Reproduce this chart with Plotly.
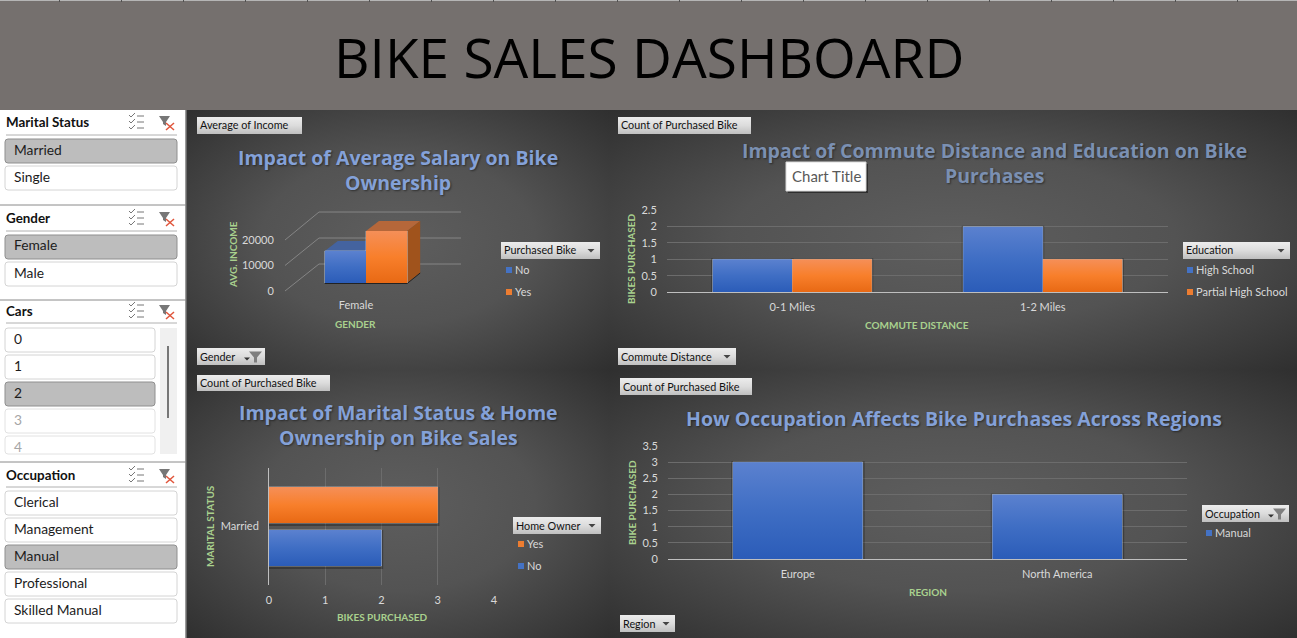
import base64
import plotly.graph_objects as go

W, H = 1297, 638

# ---------- data ----------
gender_cats = ["Female"]
income_no = [12300]
income_yes = [20000]
income_ticks = [0, 10000, 20000]

commute_cats = ["0-1 Miles", "1-2 Miles"]
commute_high_school = [1, 2]
commute_partial_hs = [1, 1]
commute_ticks = [0, 0.5, 1, 1.5, 2, 2.5]

marital_cats = ["Married"]
home_no = [2]
home_yes = [3]
home_ticks = [0, 1, 2, 3, 4]

region_cats = ["Europe", "North America"]
region_manual = [3, 2]
region_ticks = [0, 0.5, 1, 1.5, 2, 2.5, 3, 3.5]

slicers = [
    ("Marital Status", 122, 135, [("Married", 139, True), ("Single", 166, False)], 177),
    ("Gender", 218, 231, [("Female", 235, True), ("Male", 262, False)], 177),
    ("Cars", 311, 323, [("0", 328, False), ("1", 355, False), ("2", 382, True)], 155),
    ("Occupation", 475, 487, [("Clerical", 491, False), ("Management", 518, False), ("Manual", 545, True),
                              ("Professional", 572, False), ("Skilled Manual", 599, False)], 177),
]

BLUE, ORANGE = "#4472c4", "#ed7d31"
GREEN = "#a9d18e"
TICK = "#d9d9d9"
GRID = "#6c6c6c"
SANS = "Lato"
TITLE_FONT = "Open Sans"
SMALL = 11


def px(x):
    return x / W


def py(y):
    return 1 - y / H


def svg_uri(svg):
    return "data:image/svg+xml;base64," + base64.b64encode(svg.encode()).decode()


def lin_grad(top, mid, bottom):
    return svg_uri(
        '<svg xmlns="http://www.w3.org/2000/svg" width="100" height="100" preserveAspectRatio="none">'
        '<defs><linearGradient id="g" x1="0" y1="0" x2="0" y2="1">'
        f'<stop offset="0" stop-color="{top}"/><stop offset="0.5" stop-color="{mid}"/>'
        f'<stop offset="1" stop-color="{bottom}"/>'
        '</linearGradient></defs><rect width="100" height="100" fill="url(#g)"/></svg>')


RADIAL = svg_uri(
    '<svg xmlns="http://www.w3.org/2000/svg" width="100" height="100" preserveAspectRatio="none">'
    '<defs><radialGradient id="r" cx="50%" cy="50%" r="72%">'
    '<stop offset="0" stop-color="#5e5e5e"/><stop offset="0.45" stop-color="#535353"/>'
    '<stop offset="1" stop-color="#2e2e2e"/></radialGradient></defs>'
    '<rect width="100" height="100" fill="url(#r)"/></svg>')
BTN = lin_grad("#ececec", "#dcdcdc", "#bfbfbf")
BLUE_G = lin_grad("#5b81cf", "#3f6ec4", "#2b5cb8")
ORANGE_G = lin_grad("#f58f58", "#f87f2b", "#e86914")

shapes, images, notes = [], [], []


def rect(x0, y0, x1, y1, fill, line=None, lw=0, layer="below"):
    shapes.append(dict(type="rect", xref="paper", yref="paper", x0=px(x0), x1=px(x1), y0=py(y1), y1=py(y0),
                       fillcolor=fill, line=dict(color=line or "rgba(0,0,0,0)", width=lw), layer=layer))


def poly(points, fill, line=None, lw=0, layer="below", close=True):
    d = "M" + " L".join(f"{px(x):.5f},{py(y):.5f}" for x, y in points) + (" Z" if close else "")
    shapes.append(dict(type="path", xref="paper", yref="paper", path=d,
                       fillcolor=fill if close else None, line=dict(color=line or "rgba(0,0,0,0)", width=lw), layer=layer))


def seg(x0, y0, x1, y1, color, w=1, layer="below"):
    shapes.append(dict(type="line", xref="paper", yref="paper", x0=px(x0), x1=px(x1), y0=py(y0), y1=py(y1),
                       line=dict(color=color, width=w), layer=layer))


def rrect(x0, y0, x1, y1, fill, line, r=3):
    d = (f"M{px(x0+r)},{py(y0)} L{px(x1-r)},{py(y0)} Q{px(x1)},{py(y0)} {px(x1)},{py(y0+r)} "
         f"L{px(x1)},{py(y1-r)} Q{px(x1)},{py(y1)} {px(x1-r)},{py(y1)} L{px(x0+r)},{py(y1)} "
         f"Q{px(x0)},{py(y1)} {px(x0)},{py(y1-r)} L{px(x0)},{py(y0+r)} Q{px(x0)},{py(y0)} {px(x0+r)},{py(y0)} Z")
    shapes.append(dict(type="path", xref="paper", yref="paper", path=d, fillcolor=fill,
                       line=dict(color=line, width=1), layer="below"))


def txt(x, y, s, size=12, color="#111111", anchor="left", bold=False, angle=0, font=SANS, shadow=None):
    f = dict(family=font, size=size, color=color, weight=700 if bold else 400)
    if shadow:
        f["shadow"] = shadow
    notes.append(dict(xref="paper", yref="paper", x=px(x), y=py(y), text=s, showarrow=False, font=f,
                      xanchor=anchor, yanchor="middle", textangle=angle, borderpad=0, borderwidth=0))


def paper_img(src, x0, y0, x1, y1, layer="below"):
    images.append(dict(source=src, xref="paper", yref="paper", x=px(x0), y=py(y0), sizex=px(x1) - px(x0),
                       sizey=py(y0) - py(y1), xanchor="left", yanchor="top", sizing="stretch", layer=layer))


def data_img(src, xr, yr, x, y, sx, sy):
    images.append(dict(source=src, xref=xr, yref=yr, x=x, y=y, sizex=sx, sizey=sy, xanchor="left", yanchor="top",
                       sizing="stretch", layer="above"))


def data_shadow(xr, yr, x0, x1, y0, y1):
    shapes.append(dict(type="rect", xref=xr, yref=yr, x0=x0, x1=x1, y0=y0, y1=y1,
                       fillcolor="rgba(0,0,0,0.28)", line=dict(width=0), layer="between"))


def button(x0, y0, x1, y1, label, arrow=True, funnel=False):
    paper_img(BTN, x0, y0, x1, y1)
    txt(x0 + 3, (y0 + y1) / 2 - 0.5, label, 10.8, "#111111")
    cy = (y0 + y1) / 2
    if funnel:
        poly([(x1 - 21, cy + 1), (x1 - 15, cy + 1), (x1 - 18, cy + 4)], "#333333")
        poly([(x1 - 16, cy - 5), (x1 - 3, cy - 5), (x1 - 8, cy + 1), (x1 - 8, cy + 6), (x1 - 11, cy + 6), (x1 - 11, cy + 1)], "#7f7f7f")
    elif arrow:
        ax = x1 - 9
        poly([(ax - 3.5, cy - 1.5), (ax + 3.5, cy - 1.5), (ax, cy + 2)], "#444444")


def legend_item(x, y, label, color):
    rect(x, y - 3, x + 6, y + 3, color)
    txt(x + 9, y - 0.5, label, SMALL, TICK)


def chart_title(cx, y, lines, size=19.5, color="#84a1d8"):
    txt(cx, y, "<br>".join(lines), size, color, "center", True, font=TITLE_FONT,
        shadow="1px 1px 2px rgba(0,0,0,0.45)")


# ---------- page backgrounds ----------
rect(0, 0, W, 110, "#75706e")
seg(0, 0.5, W, 0.5, "#b5b5b5", 1)
for cx in range(60, W, 62):
    seg(cx - 0.5, 0, cx - 0.5, 2, "#505050", 1)
txt(649, 57, "BIKE SALES DASHBOARD", 55, "#000000", "center", font=TITLE_FONT)

rect(0, 110, 186, H, "#ffffff")
paper_img(RADIAL, 187, 110, 609, 370)
paper_img(RADIAL, 609, 110, W, 370)
paper_img(RADIAL, 187, 370, 609, H)
paper_img(RADIAL, 609, 370, W, H)
seg(186, 110, 186, H, "#7a7a7a", 1.5)
for y in (205, 300, 462):
    seg(0, y, 186, y, "#8a8a8a", 1)

# ---------- slicers ----------
for title, ty, sep, items, right in slicers:
    txt(6, ty, title, 13.4, "#111111", bold=True)
    seg(6, sep, 177, sep, "#b0b0b0", 1)
    for k in (-6, 0, 6):
        seg(137, ty + k, 144, ty + k, "#777777", 1)
        poly([(129, ty + k - 1), (131, ty + k + 1), (135, ty + k - 3)], None, "#777777", 1, close=False)
    poly([(159, ty - 6), (170, ty - 6), (166, ty), (166, ty + 4), (163, ty + 2), (163, ty)], "#777777")
    seg(166, ty + 1, 174, ty + 8, "#e0553b", 1.5)
    seg(174, ty + 1, 166, ty + 8, "#e0553b", 1.5)
    for label, y0, sel in items:
        rrect(5, y0, right, y0 + 24, "#bdbdbd" if sel else "#ffffff", "#8f8f8f" if sel else "#d4d4d4")
        txt(14, y0 + 10, label, 13.8, "#1c1c1c")
rrect(5, 409, 155, 433, "#ffffff", "#e2e2e2")
txt(14, 419, "3", 13.8, "#a6a6a6")
rrect(5, 436, 155, 454, "#ffffff", "#e2e2e2")
txt(14, 446, "4", 13.8, "#a6a6a6")
rect(160, 328, 177, 454, "#f0f0f0")
seg(168, 346, 168, 418, "#777777", 2)

# ---------- buttons ----------
button(197, 117, 302, 134, "Average of Income", arrow=False)
button(197, 348, 265, 365, "Gender", funnel=True)
button(501, 242, 600, 259, "Purchased Bike")
button(618, 117, 751, 134, "Count of Purchased Bike", arrow=False)
button(618, 348, 736, 365, "Commute Distance")
button(1183, 242, 1290, 259, "Education")
button(197, 375, 330, 391, "Count of Purchased Bike", arrow=False)
button(513, 517, 601, 534, "Home Owner")
button(620, 378, 752, 395, "Count of Purchased Bike", arrow=False)
button(1202, 505, 1289, 522, "Occupation", funnel=True)
button(620, 615, 675, 632, "Region")

# ---------- chart titles ----------
chart_title(398, 170, ["Impact of Average Salary on Bike", "Ownership"])
chart_title(994, 162.5, ["Impact of Commute Distance and Education on Bike", "Purchases"], color="#7b90b2")
chart_title(398, 425.5, ["Impact of Marital Status &amp; Home", "Ownership on Bike Sales"])
chart_title(954, 418.5, ["How Occupation Affects Bike Purchases Across Regions"], color="#84a1d8")

# "Chart Title" element tooltip box
rect(788, 164, 868, 193, "rgba(0,0,0,0.45)", layer="above")
rect(786, 162, 866, 191, "#ffffff", "#d9d9d9", 1, layer="above")
txt(826, 176, "Chart Title", 15, "#595959", "center")

# ---------- axis titles and legends ----------
txt(233, 255, "AVG. INCOME", 10, GREEN, "center", True, -90)
txt(355, 324, "GENDER", 10, GREEN, "center", True)
legend_item(506, 270, "No", BLUE)
legend_item(506, 292, "Yes", ORANGE)

txt(631, 259, "BIKES PURCHASED", 10, GREEN, "center", True, -90)
txt(917, 325, "COMMUTE DISTANCE", 10, GREEN, "center", True)
legend_item(1187, 270, "High School", BLUE)
legend_item(1187, 292, "Partial High School", ORANGE)

txt(210, 526, "MARITAL STATUS", 10, GREEN, "center", True, -90)
txt(382, 617, "BIKES PURCHASED", 10, GREEN, "center", True)
legend_item(518, 544, "Yes", ORANGE)
legend_item(518, 566, "No", BLUE)

txt(632, 503, "BIKE PURCHASED", 10, GREEN, "center", True, -90)
txt(928, 592, "REGION", 10, GREEN, "center", True)
legend_item(1206, 533, "Manual", BLUE)

fig = go.Figure()

base_axis = dict(showline=False, zeroline=False, fixedrange=True, automargin=False,
                 tickfont=dict(family=SANS, size=SMALL, color=TICK), ticks="outside", tickcolor="rgba(0,0,0,0)")


def dom_x(a, b):
    return [a / W, b / W]


def dom_y(top, bottom):
    return [1 - bottom / H, 1 - top / H]


# ---------- chart 1: pseudo-3D column ----------
fig.add_trace(go.Scatter(x=gender_cats, y=[income_ticks[0]], mode="markers", marker=dict(opacity=0),
                         xaxis="x", yaxis="y", showlegend=False, hoverinfo="skip"))
FLOOR, BAR_TOP, L3, R3 = 283, 231, 295, 437
GAP1 = 0.42
max_inc = income_ticks[-1]
DX, DY = 13, 10
w1 = (1 - GAP1) / 2
fig.add_trace(go.Bar(x=gender_cats, y=income_no, name="No", marker_color=BLUE, xaxis="x2", yaxis="y2", width=w1, offset=-w1))
fig.add_trace(go.Bar(x=gender_cats, y=income_yes, name="Yes", marker_color=ORANGE, xaxis="x2", yaxis="y2", width=w1, offset=0))


def ypx(v):
    return FLOOR - v / max_inc * (FLOOR - BAR_TOP)


def xpx(u):
    return L3 + (u + 0.5) * (R3 - L3)


for i, t in enumerate(income_ticks):
    back = 264 - 26 * i
    front = 291 - 25.5 * i
    seg(285, front, 319, back, "#858585", 1)
    seg(319, back, 461, back, "#858585", 1)
for k, (vals, top_c, side_c) in enumerate(((income_no, "#44639f", "#2b4a85"), (income_yes, "#b5673a", "#a0531c"))):
    v = vals[0]
    a, b = xpx(-w1 + k * w1), xpx(k * w1)
    poly([(a, ypx(v)), (b, ypx(v)), (b + DX, ypx(v) - DY), (a + DX, ypx(v) - DY)], top_c)
    poly([(b, ypx(v)), (b + DX, ypx(v) - DY), (b + DX, ypx(0) - DY), (b, ypx(0))], side_c)
seg(xpx(-w1), FLOOR + 0.5, xpx(w1), FLOOR + 0.5, "#222222", 1)
seg(xpx(w1), FLOOR + 0.5, xpx(w1) + DX, FLOOR - DY, "#222222", 1)
data_img(BLUE_G, "x2", "y2", -w1, income_no[0], w1, income_no[0])
data_img(ORANGE_G, "x2", "y2", 0, income_yes[0], w1, income_yes[0])

# ---------- chart 2: commute distance ----------
GAP2 = 0.365
w2 = (1 - GAP2) / 2
fig.add_trace(go.Bar(x=commute_cats, y=commute_high_school, name="High School", marker_color=BLUE, xaxis="x3", yaxis="y3", width=w2, offset=-w2))
fig.add_trace(go.Bar(x=commute_cats, y=commute_partial_hs, name="Partial High School", marker_color=ORANGE, xaxis="x3", yaxis="y3", width=w2, offset=0))
for i in range(len(commute_cats)):
    data_shadow("x3", "y3", i - w2 - 0.006, i + 0.006, 0, commute_high_school[i] + 0.03)
    data_shadow("x3", "y3", i - 0.006, i + w2 + 0.006, 0, commute_partial_hs[i] + 0.03)
    data_img(BLUE_G, "x3", "y3", i - w2, commute_high_school[i], w2, commute_high_school[i])
    data_img(ORANGE_G, "x3", "y3", i, commute_partial_hs[i], w2, commute_partial_hs[i])

# ---------- chart 3: marital status ----------
inner = 36 / 117
off = 3.5 / 117
fig.add_trace(go.Bar(y=marital_cats, x=home_no, name="No", orientation="h", marker_color=BLUE, xaxis="x4", yaxis="y4", width=inner, offset=-off - inner))
fig.add_trace(go.Bar(y=marital_cats, x=home_yes, name="Yes", orientation="h", marker_color=ORANGE, xaxis="x4", yaxis="y4", width=inner, offset=off))
data_shadow("x4", "y4", 0, home_no[0] + 0.03, -off - inner - 0.025, -off)
data_shadow("x4", "y4", 0, home_yes[0] + 0.03, off - 0.025, off + inner)
data_img(BLUE_G, "x4", "y4", 0, -off, home_no[0], inner)
data_img(ORANGE_G, "x4", "y4", 0, off + inner, home_yes[0], inner)

# ---------- chart 4: region ----------
w4 = 0.5
fig.add_trace(go.Bar(x=region_cats, y=region_manual, name="Manual", marker_color=BLUE, xaxis="x5", yaxis="y5", width=w4, offset=-w4 / 2))
for i in range(len(region_cats)):
    data_shadow("x5", "y5", i - w4 / 2 - 0.006, i + w4 / 2 + 0.008, 0, region_manual[i] + 0.03)
    data_img(BLUE_G, "x5", "y5", i - w4 / 2, region_manual[i], w4, region_manual[i])

fig.update_layout(
    width=W, height=H, autosize=False, margin=dict(l=0, r=0, t=0, b=0, pad=0),
    paper_bgcolor="#3a3a3a", plot_bgcolor="rgba(0,0,0,0)", showlegend=False,
    barmode="overlay",
    shapes=shapes, images=images, annotations=notes,
    xaxis=dict(base_axis, domain=dom_x(285, 427), anchor="y", showgrid=False, ticklen=4),
    yaxis=dict(base_axis, domain=dom_y(240, 291), anchor="x", range=[0, max_inc], tickvals=income_ticks,
               tickformat="d", showgrid=False, ticklen=8),
    xaxis2=dict(base_axis, domain=dom_x(L3, R3), anchor="y2", range=[-0.5, 0.5], showgrid=False, showticklabels=False, ticks=""),
    yaxis2=dict(base_axis, domain=dom_y(BAR_TOP, FLOOR), anchor="x2", range=[0, max_inc], showgrid=False, showticklabels=False, ticks=""),
    xaxis3=dict(base_axis, domain=dom_x(667, 1168), anchor="y3", range=[-0.5, 1.5], showgrid=False, showline=True, linecolor="#bfbfbf", ticklen=5),
    yaxis3=dict(base_axis, domain=dom_y(210.3, 292), anchor="x3", range=[0, 2.5], tickvals=commute_ticks, showgrid=True, gridcolor=GRID, ticklen=7),
    xaxis4=dict(base_axis, domain=dom_x(269, 494), anchor="y4", range=[0, 4], tickvals=home_ticks, showgrid=True, gridcolor=GRID, ticklen=5),
    yaxis4=dict(base_axis, domain=dom_y(468, 585), anchor="x4", range=[-0.5, 0.5], showgrid=False, showline=True, linecolor="#bfbfbf", ticklen=7),
    xaxis5=dict(base_axis, domain=dom_x(668, 1187), anchor="y5", range=[-0.5, 1.5], showgrid=False, showline=True, linecolor="#bfbfbf", ticklen=5),
    yaxis5=dict(base_axis, domain=dom_y(446, 559), anchor="x5", range=[0, 3.5], tickvals=region_ticks, showgrid=True, gridcolor=GRID, ticklen=7),
)

fig.write_html("out.html", config=dict(displayModeBar=False),
               post_script="document.body.style.margin='0';document.body.style.overflow='hidden';")
